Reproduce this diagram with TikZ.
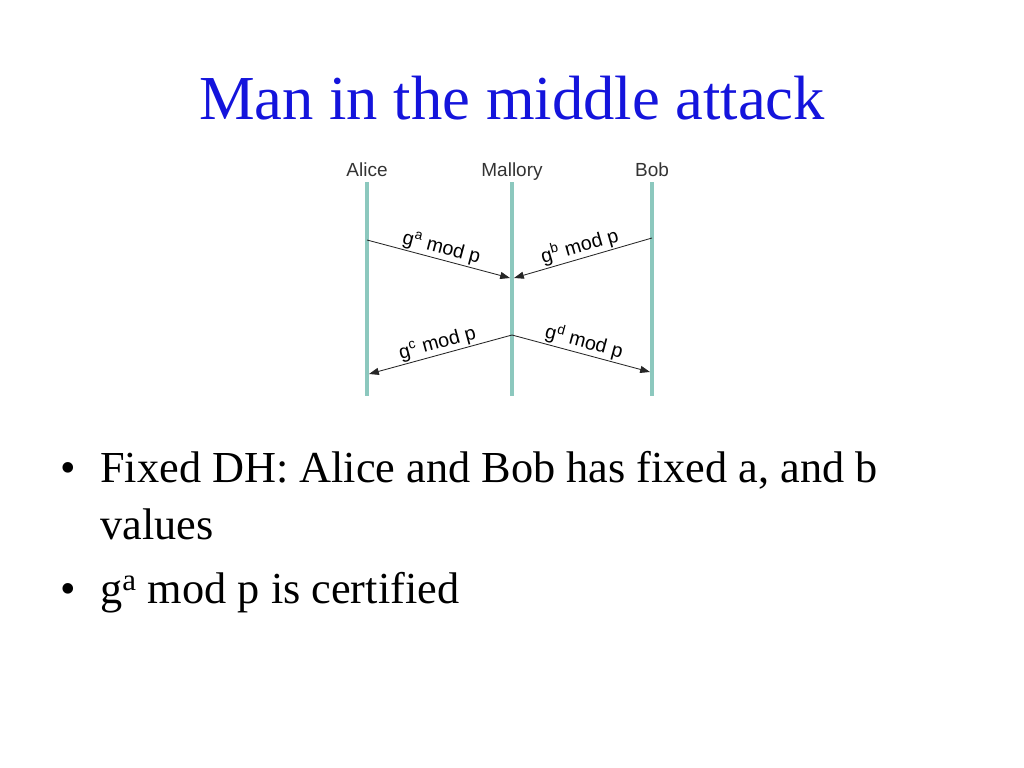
\documentclass[tikz,border=0pt]{standalone}
\usepackage{fontspec}
\setmainfont{Liberation Serif}
\setsansfont{Liberation Sans}
\usetikzlibrary{arrows.meta}
\definecolor{lifeline}{RGB}{140,200,190}
\definecolor{titleblue}{RGB}{20,20,220}
\begin{document}
\begin{tikzpicture}[x=0.025cm,y=-0.025cm,
        party/.style={anchor=base,font=\sffamily\fontsize{13.5}{15}\selectfont,text=black!80},
        msg/.style={font=\sffamily\fontsize{14}{16}\selectfont,inner sep=1pt},
        arr/.style={draw=black!85,semithick,-{Triangle[length=7pt,width=5pt]}},
        bullet/.style={anchor=base west,font=\fontsize{31.5}{36}\selectfont,inner sep=0pt}
    ]
    \useasboundingbox (0,0) rectangle (1024,768);
    \node[text=titleblue,font=\fontsize{44.5}{50}\selectfont] (title) at (512,98) {Man in the middle attack};
    % lifelines
    \foreach \name/\xx/\lbl in {alice/367/Alice,mallory/512/Mallory,bob/652/Bob}{
        \node[party] (\name) at (\xx,176) {\lbl};
        \coordinate (\name top) at (\xx,182);
        \coordinate (\name bot) at (\xx,396);
        \draw[lifeline,line width=2.2pt] (\name top) -- (\name bot);
    }
    \coordinate (a1) at (367,240);
    \coordinate (b1) at (652,238);
    \coordinate (m1) at (510,278);
    \coordinate (m1r) at (514,278);
    \coordinate (m2) at (512,335);
    \coordinate (a2) at (369,374);
    \coordinate (b2) at (650,372);
    \draw[arr] (a1) -- node[msg,above,sloped] {g\textsuperscript{a} mod p} (m1);
    \draw[arr] (b1) -- node[msg,above,sloped] {g\textsuperscript{b} mod p} (m1r);
    \draw[arr] (m2) -- node[msg,above,sloped] {g\textsuperscript{c} mod p} (a2);
    \draw[arr] (m2) -- node[msg,above,sloped] {g\textsuperscript{d} mod p} (b2);
    % bullets
    \node[bullet] (dot1) at (60,482) {\textbullet};
    \node[bullet] (line1) at (100,482) {Fixed DH: Alice and Bob has fixed a, and b};
    \node[bullet] (line2) at (100,539) {values};
    \node[bullet] (dot2) at (60,603) {\textbullet};
    \node[bullet] (line3) at (100,603) {g\textsuperscript{a} mod p is certified};
\end{tikzpicture}
\end{document}
